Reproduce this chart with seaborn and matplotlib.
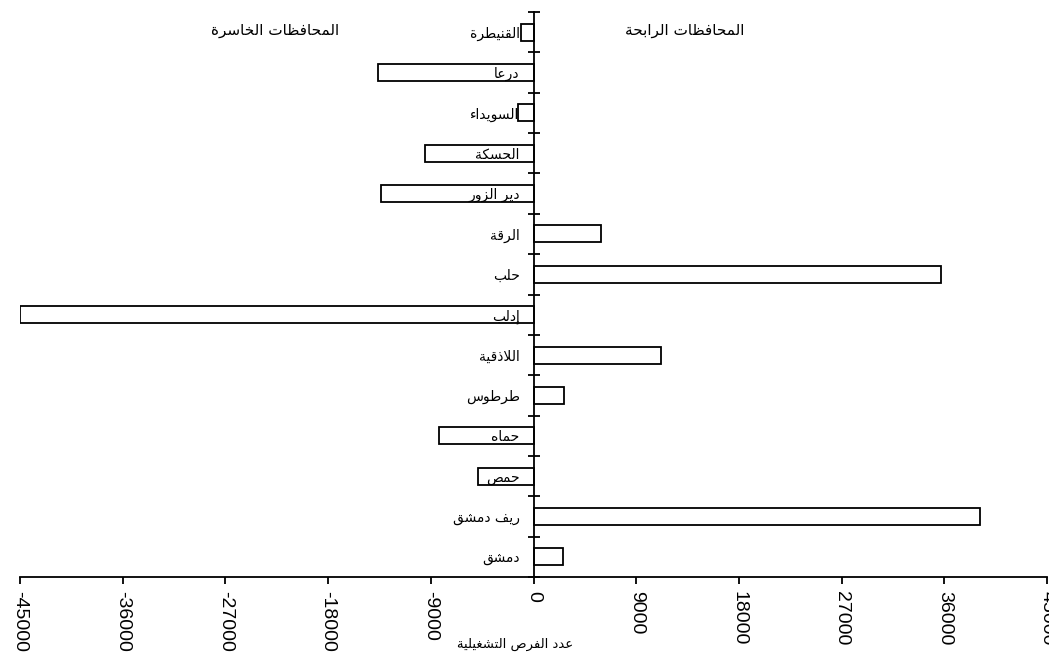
import unicodedata

import pandas as pd
import matplotlib
matplotlib.use("Agg")
import matplotlib.pyplot as plt
import seaborn as sns

governorates = ["القنيطرة", "درعا", "السويداء", "الحسكة", "دير الزور", "الرقة", "حلب",
                "إدلب", "اللاذقية", "طرطوس", "حماه", "حمص", "ريف دمشق", "دمشق"]
job_change = [-1100, -13600, -1400, -9500, -13400, 5900, 35700,
              -45000, 11200, 2700, -8250, -4900, 39100, 2550]
x_ticks = [-45000, -36000, -27000, -18000, -9000, 0, 9000, 18000, 27000, 36000, 45000]
title_losing = "المحافظات الخاسرة"
title_winning = "المحافظات الرابحة"
x_label = "عدد الفرص التشغيلية"

# matplotlib has no Arabic shaping, so map letters to presentation forms by hand
RIGHT_ONLY = set("اأإآدذرزوؤةى")
ALEFS = {"ا": "", "أ": " WITH HAMZA ABOVE", "إ": " WITH HAMZA BELOW", "آ": " WITH MADDA ABOVE"}


def is_ar(c):
    return "\u0621" <= c <= "\u064A"


def dual(c):
    return is_ar(c) and c not in RIGHT_ONLY and c != "ء"


def shape(text):
    out = []
    i = 0
    n = len(text)
    while i < n:
        c = text[i]
        if not is_ar(c):
            out.append(c)
            i += 1
            continue
        prev = text[i - 1] if i > 0 else ""
        jp = dual(prev)
        if c == "ل" and i + 1 < n and text[i + 1] in ALEFS:
            form = "FINAL" if jp else "ISOLATED"
            out.append(unicodedata.lookup(
                f"ARABIC LIGATURE LAM WITH ALEF{ALEFS[text[i + 1]]} {form} FORM"))
            i += 2
            continue
        if c == "ء":
            out.append(unicodedata.lookup("ARABIC LETTER HAMZA ISOLATED FORM"))
            i += 1
            continue
        nxt = text[i + 1] if i + 1 < n else ""
        jn = dual(c) and is_ar(nxt)
        if jp and jn:
            form = "MEDIAL"
        elif jn:
            form = "INITIAL"
        elif jp:
            form = "FINAL"
        else:
            form = "ISOLATED"
        out.append(unicodedata.lookup(f"{unicodedata.name(c)} {form} FORM"))
        i += 1
    return "".join(reversed(out))


sns.set_style("ticks", rc={"axes.edgecolor": "black", "text.color": "black",
                           "xtick.color": "black", "ytick.color": "black",
                           "axes.labelcolor": "black"})
plt.rcParams["font.family"] = ["Liberation Sans", "DejaVu Sans"]

df = pd.DataFrame({"gov": governorates, "value": job_change})

fig = plt.figure(figsize=(10.49, 6.56), dpi=100)
ax = fig.add_axes([20 / 1049, 79 / 656, 1027 / 1049, 565 / 656])

sns.barplot(data=df, x="value", y="gov", orient="h", color="white", saturation=1,
            edgecolor="black", linewidth=1.3, width=0.42, ax=ax)
for p in ax.patches:
    p.set_zorder(1)
ax.set_axisbelow(False)

ax.set_xlim(-45000, 45000)
ax.set_ylim(len(governorates) - 0.5, -0.5)

for s in ["top", "right"]:
    ax.spines[s].set_visible(False)
ax.spines["left"].set_position(("data", 0))
ax.spines["left"].set_linewidth(1.3)
ax.spines["bottom"].set_linewidth(1.3)
ax.spines["left"].set_zorder(5)

ax.set_xticks(x_ticks)
ax.set_xticklabels([str(t) for t in x_ticks], rotation=-90, fontsize=14)
ax.tick_params(axis="x", direction="out", length=5, width=1.3, pad=5)

ax.set_yticks(range(len(governorates)))
ax.set_yticklabels([shape(g) for g in governorates], fontfamily="DejaVu Sans", fontsize=10)
ax.tick_params(axis="y", which="major", length=0, pad=10)
ax.set_yticks([k - 0.5 for k in range(len(governorates) + 1)], minor=True)
ax.tick_params(axis="y", which="minor", direction="inout", length=8, width=1.3)
for lbl in ax.get_yticklabels():
    lbl.set_zorder(10)

ax.set_xlabel("")
ax.set_ylabel("")

fig.text(275 / 1049, 1 - 30 / 656, shape(title_losing), ha="center", va="center",
         fontfamily="DejaVu Sans", fontsize=11)
fig.text(685 / 1049, 1 - 30 / 656, shape(title_winning), ha="center", va="center",
         fontfamily="DejaVu Sans", fontsize=11)
fig.text(515 / 1049, 1 - 644 / 656, shape(x_label), ha="center", va="center",
         fontfamily="DejaVu Sans", fontsize=9.5)

fig.savefig("out.png", dpi=100)
plt.close(fig)
